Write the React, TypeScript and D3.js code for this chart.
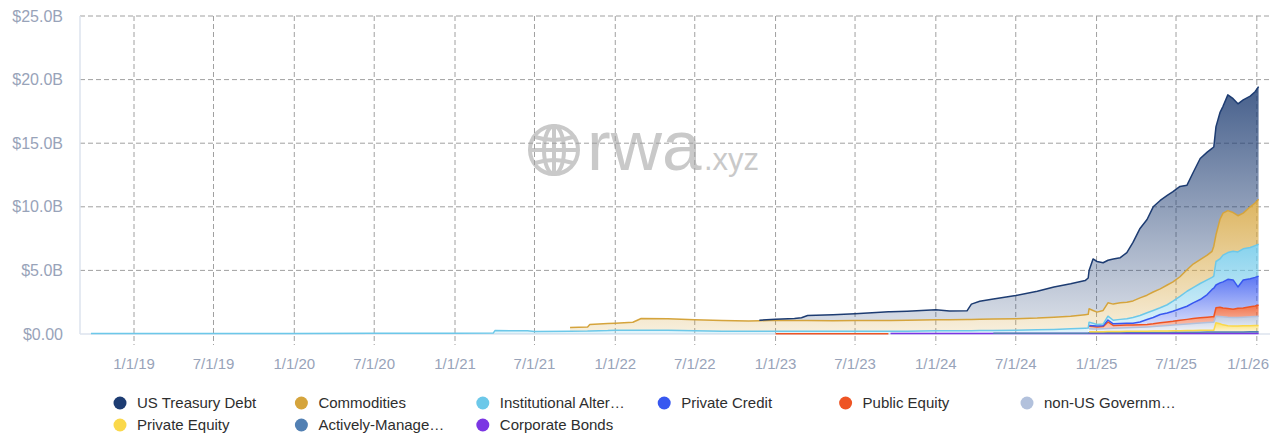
import React from 'react';
import * as d3 from 'd3';

const n = null;

const dates = [
  '2018-09-25','2019-01-01','2019-07-01','2020-01-01','2020-07-01','2021-01-01','2021-03-29','2021-04-02','2021-06-15','2021-07-01',
  '2021-09-20','2021-10-30','2021-11-04','2021-12-15','2022-01-01','2022-02-10','2022-03-01','2022-05-01','2022-07-01','2022-09-01',
  '2022-11-01','2022-11-25','2023-01-01','2023-02-13','2023-03-01','2023-03-15','2023-05-12','2023-07-01','2023-08-28','2023-09-15',
  '2023-09-20','2023-10-28','2024-01-01','2024-02-01','2024-03-12','2024-03-22','2024-04-10','2024-05-11','2024-07-01','2024-08-19',
  '2024-09-26','2024-11-03','2024-12-06','2024-12-13','2024-12-15','2024-12-24','2025-01-02','2025-01-16','2025-01-27','2025-02-08',
  '2025-02-24','2025-03-11','2025-03-25','2025-04-10','2025-04-26','2025-05-10','2025-05-26','2025-06-11','2025-06-24','2025-07-10',
  '2025-07-26','2025-08-09','2025-08-25','2025-09-10','2025-09-21','2025-09-25','2025-09-30','2025-10-09','2025-10-16','2025-10-27',
  '2025-11-08','2025-11-19','2025-12-01','2025-12-17','2025-12-28','2026-01-05',
];

// values in $B (each series' own amount, stacked bottom → top)
const corporateBonds = [
  n,n,n,n,n,n,n,n,n,n,
  n,n,n,n,n,n,n,n,n,n,
  n,n,n,n,n,n,n,n,n,n,
  .03,.03,.03,.03,.03,.03,.03,.03,.03,.03,
  .03,.03,.03,.03,.04,.04,.04,.04,.04,.04,
  .04,.04,.04,.04,.04,.04,.04,.04,.04,.04,
  .04,.04,.04,.04,.04,.04,.04,.04,.04,.04,
  .04,.04,.04,.04,.04,.04,
];
const activelyManaged = [
  n,n,n,n,n,n,n,n,n,n,
  n,n,n,n,n,n,n,n,n,n,
  n,n,n,n,n,n,n,n,n,n,
  n,n,n,n,n,n,n,.02,.02,.02,
  .02,.02,.02,.02,.06,.06,.06,.06,.06,.06,
  .06,.07,.07,.07,.07,.08,.08,.08,.09,.09,
  .10,.10,.10,.11,.11,.11,.12,.12,.12,.12,
  .12,.12,.12,.13,.13,.13,
];
const privateEquity = [
  n,n,n,n,n,n,n,n,n,n,
  n,n,n,n,n,n,n,n,n,n,
  n,n,n,n,n,n,n,n,n,n,
  n,n,n,n,n,n,n,n,n,n,
  n,n,n,n,.08,.08,.08,.08,.09,.09,
  .10,.10,.10,.11,.11,.11,.11,.12,.12,.13,
  .13,.14,.15,.15,.15,.15,.72,.64,.56,.49,
  .46,.46,.48,.48,.49,.50,
];
const nonUsGovernment = [
  n,n,n,n,n,n,n,n,n,n,
  n,n,n,n,n,n,n,n,n,n,
  n,n,n,n,n,n,n,n,n,n,
  n,n,n,n,n,n,n,n,n,n,
  n,n,n,n,.24,.22,.22,.24,.25,.27,
  .28,.29,.31,.32,.34,.35,.39,.42,.45,.48,
  .51,.54,.57,.60,.62,.62,.52,.58,.63,.67,
  .68,.68,.68,.70,.72,.73,
];
const publicEquity = [
  n,n,n,n,n,n,n,n,n,n,
  n,n,n,n,n,n,n,n,n,n,
  n,n,.02,.02,.02,.02,.02,.02,.02,.02,
  n,n,n,n,n,n,n,n,n,n,
  n,n,n,n,.19,.18,.15,.16,.51,.21,
  .20,.20,.18,.18,.19,.22,.26,.29,.30,.34,
  .37,.40,.41,.42,.43,.44,.66,.72,.70,.68,
  .65,.72,.73,.80,.82,.88,
];
const privateCredit = [
  n,n,n,n,n,n,n,n,n,n,
  n,n,n,n,n,n,n,n,n,n,
  n,n,n,n,n,n,n,n,n,n,
  n,n,n,n,n,n,n,n,n,n,
  n,n,n,n,.06,.07,.07,.07,.15,.13,
  .14,.14,.15,.23,.39,.50,.65,.70,.79,.90,
  1.03,1.23,1.44,1.78,2.15,2.24,1.79,1.92,2.05,2.30,
  2.30,1.68,2.20,2.20,2.25,2.27,
];
const institutionalAlt = [
  .03,.03,.04,.04,.05,.06,.07,.27,.25,.20,
  .22,.23,.24,.27,.30,.30,.30,.30,.26,.22,
  .22,.22,.20,.20,.20,.20,.20,.20,.20,.20,
  .19,.19,.22,.22,.23,.23,.24,.23,.25,.28,
  .31,.36,.41,.42,.26,.20,.13,.13,.30,.28,
  .33,.36,.45,.50,.53,.55,.53,.65,.79,.97,
  1.18,1.20,1.26,1.15,.95,.95,1.85,1.88,2.10,2.10,
  2.25,2.75,2.45,2.45,2.50,2.50,
];
const commodities = [
  n,n,n,n,n,n,n,n,n,n,
  .29,.32,.50,.55,.55,.62,.92,.90,.86,.84,
  .80,.82,.86,.84,.84,.84,.82,.84,.84,.84,
  .84,.86,.87,.88,.88,.88,.88,.89,.90,.92,
  .96,.99,1.06,1.08,1.05,1.00,.97,1.07,1.05,1.27,
  1.30,1.30,1.30,1.39,1.38,1.45,1.49,1.55,1.52,1.55,
  1.69,1.85,1.88,1.95,2.05,2.35,2.10,3.10,3.30,3.30,
  3.05,2.85,2.80,3.20,3.35,3.55,
];
const usTreasury = [
  n,n,n,n,n,n,n,n,n,n,
  n,n,n,n,n,n,n,n,n,n,
  n,.04,.08,.16,.22,.39,.47,.53,.65,.68,
  .69,.71,.78,.68,.68,1.21,1.43,1.58,1.82,2.11,
  2.38,2.55,2.68,2.85,3.02,4.05,3.98,3.75,3.35,3.55,
  3.55,3.90,4.60,5.46,5.95,6.70,6.95,7.05,7.10,7.10,
  6.65,7.20,7.95,8.10,8.10,7.80,8.50,8.40,8.40,9.10,
  8.95,8.80,8.90,8.70,8.75,8.85,
];

const yTickValues = [0, 5, 10, 15, 20, 25];
const yTickLabels = ['$0.00', '$5.0B', '$10.0B', '$15.0B', '$20.0B', '$25.0B'];

// stack order: bottom → top
const series = [
  { key: 'cb', name: 'Corporate Bonds', color: '#7b36e3', values: corporateBonds },
  { key: 'am', name: 'Actively-Manage…', color: '#5280b3', values: activelyManaged },
  { key: 'pe', name: 'Private Equity', color: '#fad84a', values: privateEquity },
  { key: 'ng', name: 'non-US Governm…', color: '#b2c1dc', values: nonUsGovernment },
  { key: 'pub', name: 'Public Equity', color: '#ee5424', values: publicEquity },
  { key: 'pc', name: 'Private Credit', color: '#3858f0', values: privateCredit },
  { key: 'ia', name: 'Institutional Alter…', color: '#6cc8e9', values: institutionalAlt },
  { key: 'com', name: 'Commodities', color: '#d5a43c', values: commodities },
  { key: 'ust', name: 'US Treasury Debt', color: '#1d3c72', values: usTreasury },
];
const legendOrder = ['ust', 'com', 'ia', 'pc', 'pub', 'ng', 'pe', 'am', 'cb'];

const W = 1280, H = 439;
const L = 80, R = 1270, T = 16, B = 334;

export default function App() {
  const parse = d3.utcParse('%Y-%m-%d');
  const rows = dates.map((d, i) => {
    const r: any = { date: parse(d) };
    series.forEach(s => { r[s.key] = s.values[i]; });
    return r;
  });

  const x = d3.scaleUtc()
    .domain([new Date(Date.UTC(2018, 7, 31)), new Date(Date.UTC(2026, 0, 31))])
    .range([L, R]);
  const y = d3.scaleLinear().domain([0, 25]).range([B, T]);

  const stack = d3.stack<any>()
    .keys(series.map(s => s.key))
    .value((d, k) => (d[k] == null ? 0 : d[k]));
  const layers = stack(rows);

  const xTicks = x.ticks(d3.utcMonth.every(6) as any);
  const fmt = d3.utcFormat('%-m/%-d/%y');

  const font = '"Liberation Sans", Arial, Helvetica, sans-serif';

  const areas = layers.map((layer, i) => {
    const key = series[i].key;
    const area = d3.area<any>()
      .defined(d => d.data[key] != null)
      .x(d => x(d.data.date))
      .y0(d => y(d[0]))
      .y1(d => y(d[1]));
    const line = d3.line<any>()
      .defined(d => d.data[key] != null)
      .x(d => x(d.data.date))
      .y(d => y(d[1]));
    return { key, color: series[i].color, area: area(layer as any) || '', line: line(layer as any) || '' };
  });

  const legendX0 = 120, legendDX = 181.4;

  return (
    <svg width={W} height={H} style={{ position: 'absolute', left: 0, top: 0, background: '#fff' }}
      xmlns="http://www.w3.org/2000/svg">
      <defs>
        {series.map(s => (
          <linearGradient key={s.key} id={`g-${s.key}`} x1="0" y1="0" x2="0" y2="1">
            <stop offset="0%" stopColor={s.color} stopOpacity={0.82} />
            <stop offset="100%" stopColor={s.color} stopOpacity={0.18} />
          </linearGradient>
        ))}
      </defs>

      {/* watermark */}
      <g fill="none" stroke="#c9c9c9" strokeWidth={4}>
        <circle cx={554} cy={150} r={24} />
        <ellipse cx={554} cy={150} rx={10} ry={24} />
        <line x1={554} y1={126} x2={554} y2={174} />
        <line x1={530} y1={150} x2={578} y2={150} />
        <path d="M535,137 Q554,143 573,137" />
        <path d="M535,163 Q554,157 573,163" />
      </g>
      <text x={587} y={170} fontFamily={font} fontSize={71} fill="#c9c9c9">rwa</text>
      <text x={704} y={170} fontFamily={font} fontSize={31} fill="#c9c9c9">.xyz</text>

      {/* grid */}
      <g stroke="#a0a0a0" strokeWidth={1} strokeDasharray="5 3">
        {yTickValues.filter(v => v > 0).map(v => (
          <line key={v} x1={L} x2={R} y1={y(v)} y2={y(v)} />
        ))}
        {xTicks.map(t => (
          <line key={+t} x1={x(t)} x2={x(t)} y1={T} y2={B + 11} />
        ))}
      </g>
      {/* axes */}
      <line x1={L} x2={L} y1={T} y2={B} stroke="#dde3ee" strokeWidth={1.5} />
      <line x1={L} x2={R} y1={B} y2={B} stroke="#dde3ee" strokeWidth={1.5} />

      {/* areas */}
      {areas.map(a => (
        <path key={a.key} d={a.area} fill={`url(#g-${a.key})`} stroke="none" />
      ))}
      {areas.map(a => (
        <path key={a.key} d={a.line} fill="none" stroke={a.color} strokeWidth={1.5} strokeLinejoin="round" />
      ))}

      {/* y labels */}
      {yTickValues.map((v, i) => (
        <text key={v} x={63} y={y(v)} dy="0.35em" textAnchor="end" fontFamily={font} fontSize={16} fill="#98a3b9">
          {yTickLabels[i]}
        </text>
      ))}
      {/* x labels */}
      {xTicks.map(t => {
        const px = x(t);
        const clamp = px + 21 > R;
        return (
          <text key={+t} x={clamp ? R - 1 : px} y={369} textAnchor={clamp ? 'end' : 'middle'}
            fontFamily={font} fontSize={15} fill="#98a3b9">
            {fmt(t)}
          </text>
        );
      })}

      {/* legend */}
      {legendOrder.map((k, i) => {
        const s = series.find(ss => ss.key === k)!;
        const col = i % 6, row = Math.floor(i / 6);
        const cx = legendX0 + col * legendDX;
        const cy = 403 + row * 22;
        return (
          <g key={k}>
            <circle cx={cx} cy={cy} r={6.5} fill={s.color} />
            <text x={cx + 17} y={cy} dy="0.35em" fontFamily={font} fontSize={15} fill="#2e2e2e">{s.name}</text>
          </g>
        );
      })}
    </svg>
  );
}
